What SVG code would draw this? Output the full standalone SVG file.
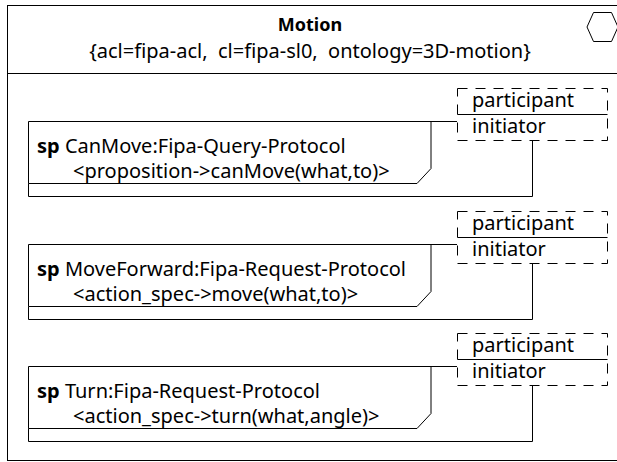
<svg xmlns="http://www.w3.org/2000/svg" width="617" height="462" viewBox="0 0 617 462">
<style>
text{font-family:"Noto Sans","Open Sans","DejaVu Sans",sans-serif;font-size:20px;fill:#000;white-space:pre}
.b{font-weight:bold}
.t{font-size:18px}
.ln{fill:none;stroke:#000;stroke-width:1}
.dash{fill:none;stroke:#000;stroke-width:1;stroke-dasharray:10,8}
.box{fill:#fff;stroke:#000;stroke-width:1}
</style>
<rect width="617" height="462" fill="#fff"/>
<g id="motion">
<rect class="box" x="7.5" y="5.5" width="640" height="455"/>
<line class="ln" x1="7.5" y1="73.5" x2="617" y2="73.5"/>
<polygon class="ln" points="587,27 593.5,12.5 611.5,12.5 618,27 611.5,41.5 593.5,41.5"/>
<text class="b t" x="310" y="31" text-anchor="middle">Motion</text>
<text x="310" y="58" text-anchor="middle" xml:space="preserve">{acl=fipa-acl,  cl=fipa-sl0,  ontology=3D-motion}</text>
</g>
<g id="connectors">
<path class="ln" d="M431,121.5H457M28.5,183.5V196.5H532.5V140.5"/>
<path class="ln" d="M431,244.5H457M28.5,306.5V319.5H532.5V263.5"/>
<path class="ln" d="M431,366.5H457M28.5,428.5V441.5H532.5V385.5"/>
</g>
<g id="sp-canmove">
<path class="ln" d="M28.5,183.5V121.5H431V168.5L417,183.5Z"/>
<text x="37" y="152.5"><tspan class="b">sp</tspan> CanMove:Fipa-Query-Protocol</text>
<text x="73" y="177.5">&lt;proposition-&gt;canMove(what,to)&gt;</text>
</g>
<g id="roles-canmove">
<rect class="dash" x="457.5" y="88.5" width="150" height="52"/>
<line class="ln" x1="457.5" y1="114.5" x2="607.5" y2="114.5"/>
<text x="472" y="107">participant</text>
<text x="472" y="133">initiator</text>
</g>
<g id="sp-moveforward">
<path class="ln" d="M28.5,306.5V244.5H431V291.5L417,306.5Z"/>
<text x="37" y="275.5"><tspan class="b">sp</tspan> MoveForward:Fipa-Request-Protocol</text>
<text x="73" y="300.5">&lt;action_spec-&gt;move(what,to)&gt;</text>
</g>
<g id="roles-moveforward">
<rect class="dash" x="457.5" y="211.5" width="150" height="52"/>
<line class="ln" x1="457.5" y1="237.5" x2="607.5" y2="237.5"/>
<text x="472" y="230">participant</text>
<text x="472" y="256">initiator</text>
</g>
<g id="sp-turn">
<path class="ln" d="M28.5,428.5V366.5H431V413.5L417,428.5Z"/>
<text x="37" y="397.5"><tspan class="b">sp</tspan> Turn:Fipa-Request-Protocol</text>
<text x="73" y="422.5">&lt;action_spec-&gt;turn(what,angle)&gt;</text>
</g>
<g id="roles-turn">
<rect class="dash" x="457.5" y="333.5" width="150" height="52"/>
<line class="ln" x1="457.5" y1="359.5" x2="607.5" y2="359.5"/>
<text x="472" y="352">participant</text>
<text x="472" y="378">initiator</text>
</g>
</svg>
